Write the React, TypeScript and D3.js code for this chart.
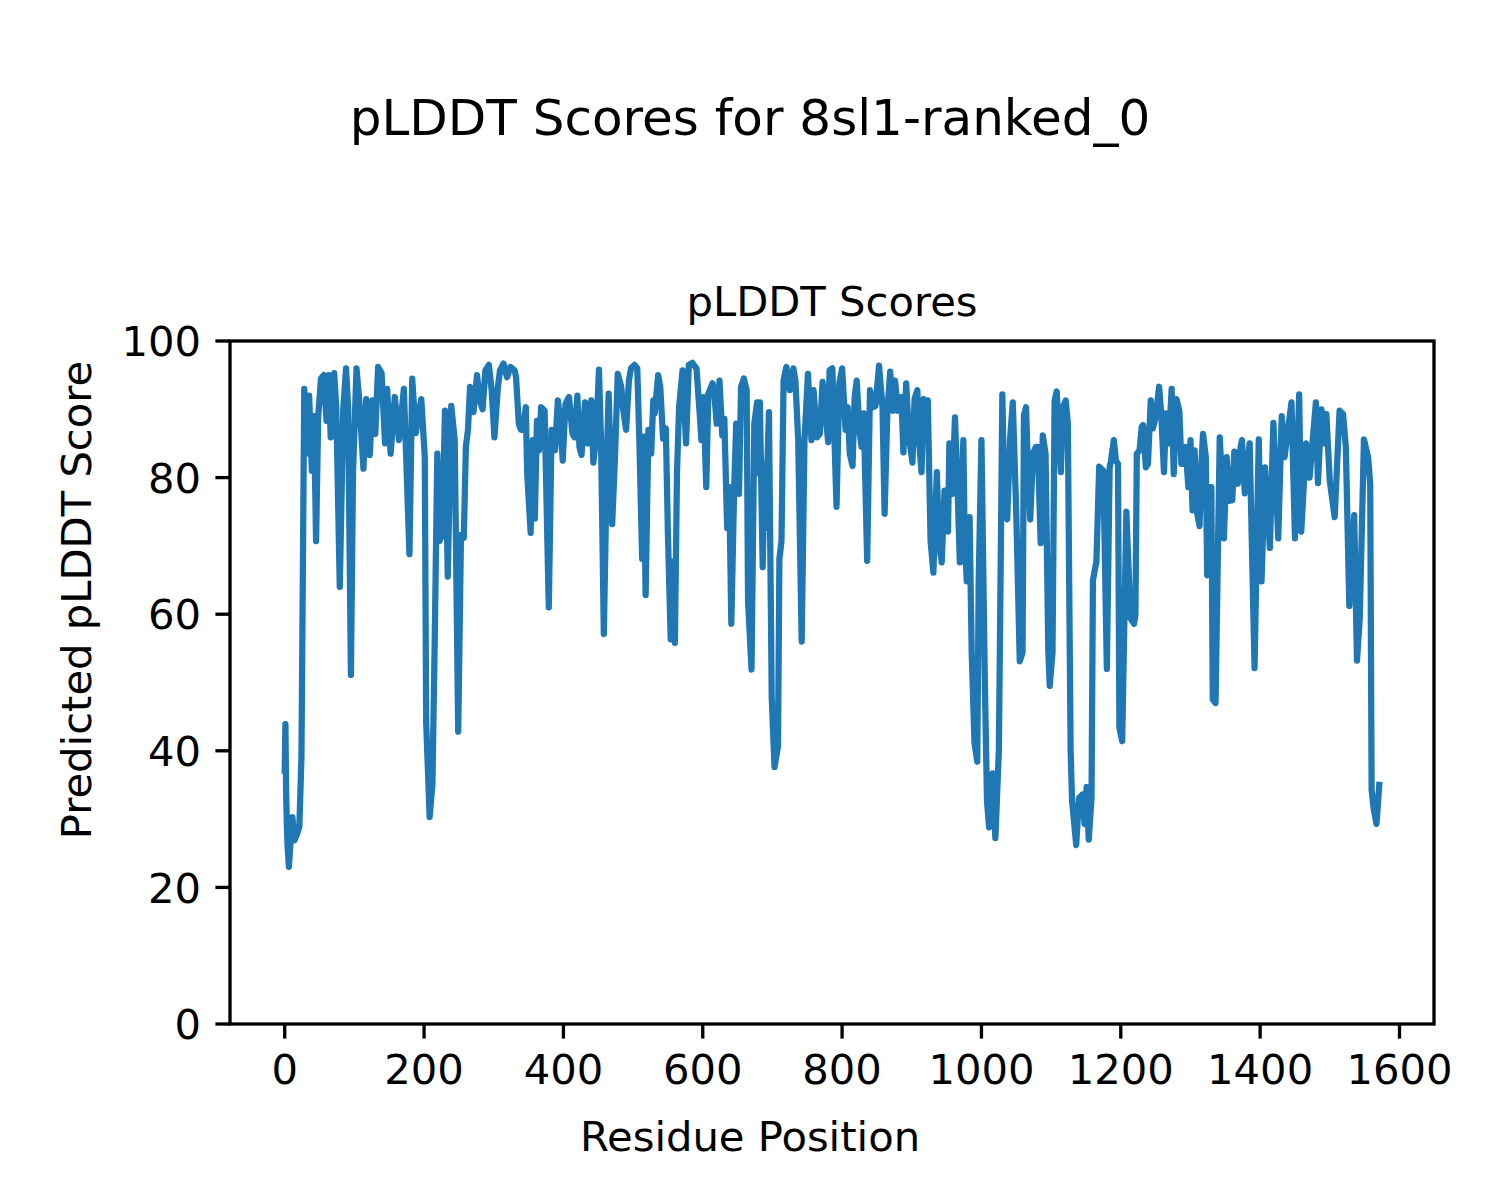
import React from 'react';
import * as d3 from 'd3';

const residues = [
  0, 1, 2, 3, 4, 6, 8, 11, 14, 18, 21, 24, 28, 31, 35, 39, 42, 45, 48, 52, 56, 60, 63, 66, 71, 74, 79, 84, 88, 91, 95, 98,
  103, 107, 113, 117, 122, 126, 130, 134, 139, 144, 147, 152, 158, 164, 171,
  179, 183, 188, 196, 201, 203, 208, 212, 215, 219, 222, 226, 230, 234, 239, 244, 249, 253, 257, 260, 263, 266, 271, 276,
  280, 284, 288, 293, 297, 301, 306, 309, 314, 319, 324, 330, 332, 336, 339,
  342, 346, 348, 353, 356, 359, 362, 365, 368, 373, 379, 383, 388, 392, 396, 399, 403, 408, 413, 416, 420, 423, 426, 431,
  435, 440, 443, 447, 451, 454, 458, 463, 465, 470, 474, 478, 483, 486, 490, 494, 497, 502, 506, 509, 513, 515, 518,
  522, 526, 529, 531, 536, 539, 543, 547, 550, 554, 556, 560, 563, 566, 571, 576, 580, 585, 591, 596, 598, 601, 605, 608,
  614, 617, 620, 624, 628, 631, 635, 638, 641, 645, 648, 652, 655, 659, 663, 665, 670, 674, 678, 680,
  682, 686, 689, 690, 695, 699, 703, 708, 710, 713, 716, 720, 725, 730, 733, 737, 742, 746, 751, 756, 759, 764, 768, 772,
  775, 780, 782, 786, 792, 796, 800, 805, 808, 811, 815, 818, 821, 825, 828, 831, 836, 840, 844, 848, 853,
  858, 861, 865, 869, 873, 876, 880, 885, 888, 892, 896, 901, 904, 908, 910, 914, 917, 920, 923, 927, 931, 936, 939, 943,
  947, 952, 954, 958, 962, 965, 969, 974, 976, 979, 983, 986, 990, 994, 996, 1000, 1005, 1008, 1011, 1016, 1020, 1025,
  1030, 1033, 1037, 1041, 1045, 1050, 1055, 1059, 1061, 1064, 1067, 1070, 1074, 1078, 1081, 1085, 1088, 1092, 1096, 1098,
  1102, 1105, 1108, 1111, 1114, 1117, 1121, 1124, 1128, 1130, 1136, 1140, 1145, 1148, 1151, 1154, 1158, 1160, 1165, 1169,
  1172, 1175, 1180, 1184, 1186, 1190, 1193, 1196, 1198, 1202,
  1208, 1214, 1219, 1221, 1223, 1227, 1230, 1232, 1236, 1239, 1243, 1246, 1250, 1255, 1258, 1262, 1265, 1269, 1273, 1276,
  1280, 1284, 1287, 1289, 1293, 1297, 1300, 1303, 1306, 1309, 1313, 1316, 1318, 1322, 1324, 1327, 1330, 1332, 1336, 1342,
  1346, 1348, 1352, 1356, 1360, 1363, 1368, 1372, 1374, 1378,
  1385, 1392, 1398, 1402, 1407, 1414, 1419, 1426, 1431, 1435, 1445, 1450, 1456, 1459, 1466, 1471, 1480, 1483, 1488, 1493,
  1495, 1500, 1507, 1514, 1519, 1523, 1528, 1535, 1539, 1543, 1549, 1555, 1558, 1560, 1563, 1567, 1571,
];

const scores = [
  37.1, 43.9, 34, 29.3, 26.2, 23, 26.2, 30.3, 26.9, 27.9, 28.9, 39.1, 93, 83.5, 92, 81, 89, 70.7, 88.8, 94.5, 95, 88.3, 95, 85.9, 95.3, 90.3, 64, 90, 96, 90.3, 51.1, 80.6,
  96, 91.3, 81.3, 91.5, 83.3, 91.3, 86.4, 96.2, 95.3, 85, 93, 83.5, 91.8, 85.5, 93,
  68.8, 94.5, 86.5, 91.5, 83, 44.2, 30.3, 35.1, 54.2, 83.5, 70.7, 71.6, 89.8, 65.5, 90.5, 85.5, 42.8, 71.6, 71.2, 84.5, 87, 93.3, 89.6, 95,
  91.3, 90, 95.7, 96.5, 92.8, 85.9, 93.3, 95.7, 96.7, 94.7, 96.2, 95.7, 94.7, 87.9, 87,
  87, 90.3, 80.6, 71.9, 85.5, 74, 88.3, 84, 90.3, 89.8, 61, 87, 84, 91.3, 87.9, 82.5, 90.8, 91.8, 86.4, 85.9, 92, 84.5, 83.3, 91,
  85, 91.3, 82.2, 85.9, 95.8, 85.5, 57.1, 85.5, 92.3, 73.2, 83, 95.2, 93.3, 89.8, 87, 94.2, 96, 96.5, 96, 85.5, 68.1, 86, 62.8,
  87, 83.5, 91.3, 89.4, 95, 93.3, 85.7, 87.2, 71.7, 56.3, 67.7, 55.8, 80.6, 90.3, 95.7, 85, 96.5, 96.8, 96, 88.8, 85.5, 91.8, 78.6, 92.3,
  93.8, 91.8, 87.9, 94.2, 86.2, 88.6, 72.6, 78.6, 58.6, 78.1, 87.9, 77.6, 93.3, 94.5, 92.8, 62, 51.9, 87.9, 91, 80.6,
  91, 66.9, 82, 72.6, 89.6, 47.8, 37.6, 40.7, 68.1, 70.7, 94.2, 96.2, 92.8, 96, 94.2, 85.5, 56, 85.5, 95.2, 85.5, 92.8, 85.9, 86.4, 94,
  90.8, 85.2, 95.7, 96, 75.7, 93.8, 96, 87, 90.3, 83.5, 81.7, 91.8, 94.2, 86.7, 84.5, 89.4, 67.8, 92.8, 90.3, 90.5, 96.4,
  90.3, 74.7, 89.8, 95.5, 89.8, 94.2, 89.8, 91.8, 83.7, 93.8, 85.9, 82.2, 91.5, 92.8, 85.9, 80.8, 91.5, 87.9, 91.3, 70.7, 66.1, 80.8, 70.7, 67.6,
  78.1, 72.1, 85, 77.6, 88.8, 80.6, 67.6, 85.5, 70.7, 64.8, 74.2, 54.4, 41.2, 38.4, 64.6, 85.5, 49.3, 32.6, 28.8, 36.7, 27.2, 40.1,
  92.2, 75.2, 73.9, 85.5, 91, 74.7, 53.1, 54.4, 89.1, 90.3, 80.6, 73.9, 83.5, 84.5, 84.5, 70.4, 86.2, 83.5, 54.4, 49.5,
  54.4, 91.3, 92.6, 87, 80.8, 90.3, 91.3, 87.9, 40.1, 32.8, 26.2, 33.1, 33.6, 29.3, 34.7, 27, 33.1, 65, 67.7, 81.6,
  81.3, 81, 52, 81.5, 82.5, 85.5, 82.5, 82, 43.4, 41.4,
  75, 59.4, 58.6, 59.9, 83.5, 84, 87.4, 87.7, 81.5, 82, 91.3, 87.2, 88.8, 93.3, 89.4, 80.8, 89.4, 85, 93, 80.5,
  91.5, 89.8, 82, 82, 84.5, 78.6, 85.5, 75.2, 84, 75.2, 72.9, 82.5, 86.4, 83, 65.7, 78.6, 78.6, 47.5, 47, 85.9,
  78.1, 71.1, 83, 76.6, 76.7, 83.8, 79.1, 84.5, 85.5, 77.7,
  85, 52.1, 85.6, 64.8, 81.5, 69.7, 88, 71.1, 89, 83, 91, 71.1, 92.2, 72.1, 85, 80, 91, 79.2, 90, 85,
  89.3, 79.5, 74.2, 89.8, 89.3, 84.5, 61.2, 74.5, 53.2, 59.4, 85.6, 83, 79, 34.3, 31.5, 29.3, 35,
];

const xTicks = [0, 200, 400, 600, 800, 1000, 1200, 1400, 1600];
const yTicks = [0, 20, 40, 60, 80, 100];

const suptitle = 'pLDDT Scores for 8sl1-ranked_0';
const axTitle = 'pLDDT Scores';
const xLabel = 'Residue Position';
const yLabel = 'Predicted pLDDT Score';

export default function App() {
  const W = 1500;
  const H = 1200;
  const left = 230;
  const right = 1434;
  const top = 341;
  const bottom = 1024;
  const font = "'DejaVu Sans', sans-serif";

  const ext = d3.extent(residues) as [number, number];
  const pad = (ext[1] - ext[0]) * 0.05;
  const x = d3.scaleLinear().domain([ext[0] - pad, ext[1] + pad]).range([left, right]);
  const y = d3.scaleLinear().domain([0, 100]).range([bottom, top]);

  const data: [number, number][] = residues.map((r, i) => [r, scores[i]]);
  const line = d3
    .line<[number, number]>()
    .x((d) => x(d[0]))
    .y((d) => y(d[1]));

  const tickLen = 14.6;
  const sw = 3.33;

  return (
    <svg
      width={W}
      height={H}
      viewBox={`0 0 ${W} ${H}`}
      style={{ position: 'absolute', left: 0, top: 0, background: '#fff' }}
      fontFamily={font}
    >
      <rect x={0} y={0} width={W} height={H} fill="#fff" />
      <text x={750} y={135} fontSize={50} textAnchor="middle" fill="#000">
        {suptitle}
      </text>
      <text x={(left + right) / 2} y={316} fontSize={41.7} textAnchor="middle" fill="#000">
        {axTitle}
      </text>
      <defs>
        <clipPath id="plotClip">
          <rect x={left} y={top} width={right - left} height={bottom - top} />
        </clipPath>
      </defs>
      <path
        d={line(data) || ''}
        fill="none"
        stroke="#1f77b4"
        strokeWidth={6.25}
        strokeLinejoin="round"
        strokeLinecap="square"
        clipPath="url(#plotClip)"
      />
      <rect
        x={left}
        y={top}
        width={right - left}
        height={bottom - top}
        fill="none"
        stroke="#000"
        strokeWidth={sw}
      />
      {xTicks.map((t) => (
        <g key={`x${t}`}>
          <line x1={x(t)} x2={x(t)} y1={bottom} y2={bottom + tickLen} stroke="#000" strokeWidth={sw} />
          <text x={x(t)} y={1084} fontSize={41.7} textAnchor="middle" fill="#000">
            {t}
          </text>
        </g>
      ))}
      {yTicks.map((t) => (
        <g key={`y${t}`}>
          <line x1={left - tickLen} x2={left} y1={y(t)} y2={y(t)} stroke="#000" strokeWidth={sw} />
          <text x={201} y={y(t) + 15.2} fontSize={41.7} textAnchor="end" fill="#000">
            {t}
          </text>
        </g>
      ))}
      <text x={750} y={1151} fontSize={41.7} textAnchor="middle" fill="#000">
        {xLabel}
      </text>
      <text
        transform={`translate(91, 600) rotate(-90)`}
        fontSize={41.7}
        textAnchor="middle"
        fill="#000"
      >
        {yLabel}
      </text>
    </svg>
  );
}
